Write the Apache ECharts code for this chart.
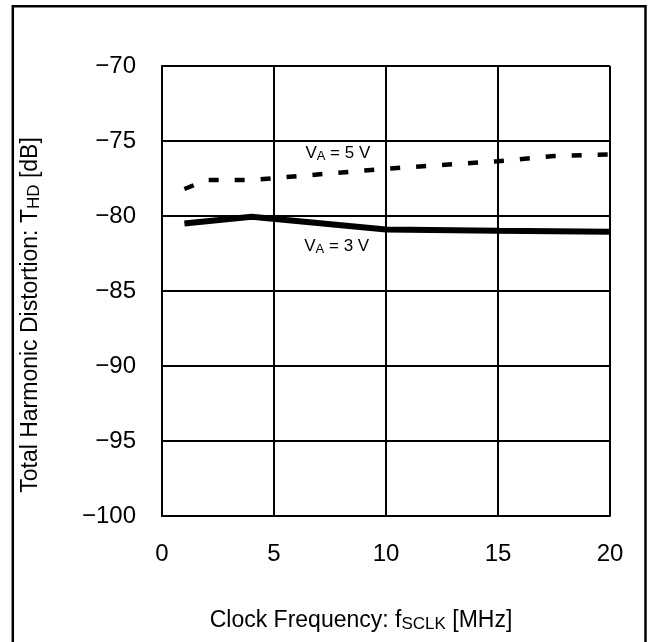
<!DOCTYPE html>
<html>
<head>
<meta charset="utf-8">
<script src="https://cdn.jsdelivr.net/npm/echarts@6/dist/echarts.min.js"></script>
<style>
  html, body { margin: 0; padding: 0; background: #fff; }
  #chart { width: 653px; height: 642px; }
</style>
</head>
<body>
<div id="chart"></div>
<script>
// V_A = 5 V (dashed)
const freq5V = [1, 2, 4, 10, 15, 17.5, 20];
const thd5V = [-78.2, -77.6, -77.6, -76.85, -76.35, -76.0, -75.9];
// V_A = 3 V (solid)
const freq3V = [1, 4, 10, 15, 20];
const thd3V = [-80.5, -80.05, -80.9, -80.98, -81.05];

const xMin = 0, xMax = 20, xStep = 5;
const yMin = -100, yMax = -70, yStep = 5;

const font = "Liberation Sans, Arial, sans-serif";
const minusFmt = (v) => String(v).replace("-", "\u2212");

const curveLabel = (text) => ({
  show: true,
  position: "inside",
  formatter: text,
  color: "#000",
  fontSize: 17,
  fontFamily: font,
  rich: {
    s: { fontSize: 13, fontFamily: font, color: "#000", verticalAlign: "bottom", padding: [6, 0, 0, 0] },
  },
});

const chart = echarts.init(document.getElementById("chart"));

chart.setOption({
  animation: false,
  backgroundColor: "#fff",
  grid: { left: 162, right: 43, top: 66, bottom: 126 },
  xAxis: {
    type: "value",
    min: xMin,
    max: xMax,
    interval: xStep,
    axisLine: { show: true, lineStyle: { color: "#000", width: 2 } },
    axisTick: { show: false },
    axisLabel: { color: "#000", fontSize: 24, fontFamily: font, margin: 26 },
    splitLine: { show: true, lineStyle: { color: "#000", width: 2 } },
  },
  yAxis: {
    type: "value",
    min: yMin,
    max: yMax,
    interval: yStep,
    axisLine: { show: true, lineStyle: { color: "#000", width: 2 } },
    axisTick: { show: false },
    axisLabel: {
      color: "#000",
      fontSize: 24,
      fontFamily: font,
      margin: 26,
      formatter: minusFmt,
    },
    splitLine: { show: true, lineStyle: { color: "#000", width: 2 } },
  },
  series: [
    {
      name: "VA = 5 V",
      type: "line",
      data: freq5V.map((x, i) => [x, thd5V[i]]),
      symbol: "none",
      lineStyle: { color: "#000", width: 4.5, type: [10, 16] },
      markPoint: {
        symbol: "circle",
        symbolSize: 0,
        data: [{ coord: [7.85, -75.85] }],
        label: curveLabel("V{s|A} = 5 V"),
      },
    },
    {
      name: "VA = 3 V",
      type: "line",
      data: freq3V.map((x, i) => [x, thd3V[i]]),
      symbol: "none",
      lineStyle: { color: "#000", width: 6 },
      markPoint: {
        symbol: "circle",
        symbolSize: 0,
        data: [{ coord: [7.8, -82.05] }],
        label: curveLabel("V{s|A} = 3 V"),
      },
    },
  ],
  graphic: [
    {
      type: "rect",
      shape: { x: 12.8, y: 6.2, width: 632.7, height: 660 },
      style: { fill: "none", stroke: "#000", lineWidth: 2.5 },
      silent: true,
    },
    {
      type: "text",
      x: 361,
      y: 621,
      style: {
        text: "Clock Frequency: f{s|SCLK} [MHz]",
        font: "23px " + font,
        fill: "#000",
        align: "center",
        verticalAlign: "middle",
        rich: { s: { fontSize: 17, fontFamily: font, fill: "#000", padding: [7, 0, 0, 0] } },
      },
    },
    {
      type: "text",
      x: 31,
      y: 315,
      rotation: Math.PI / 2,
      style: {
        text: "Total Harmonic Distortion: T{s|HD} [dB]",
        font: "23px " + font,
        fill: "#000",
        align: "center",
        verticalAlign: "middle",
        rich: { s: { fontSize: 17, fontFamily: font, fill: "#000", padding: [7, 0, 0, 0] } },
      },
    },
  ],
});
</script>
</body>
</html>
